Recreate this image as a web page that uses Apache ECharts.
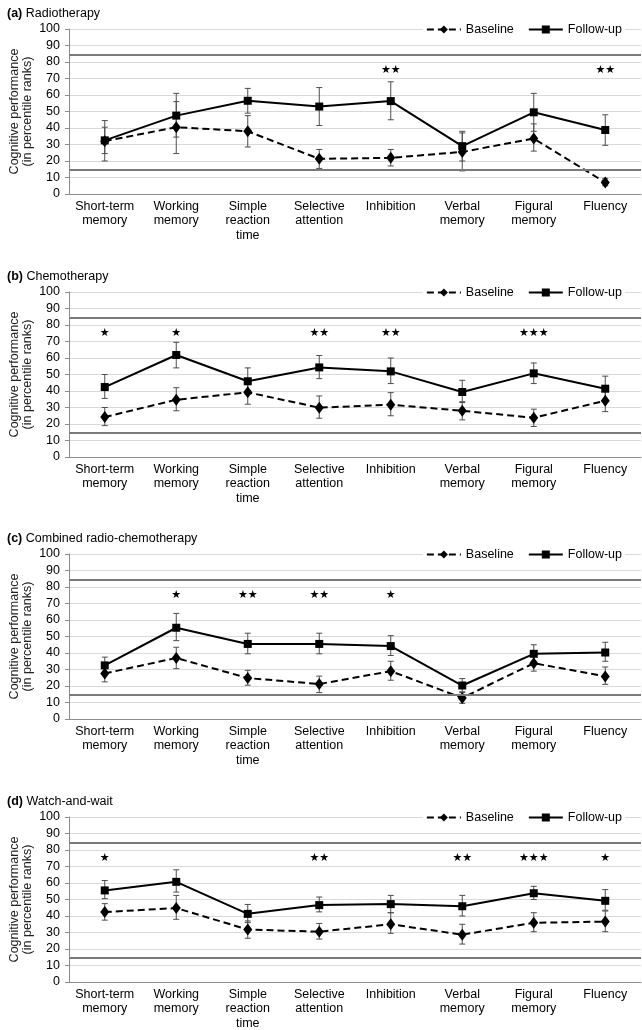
<!DOCTYPE html>
<html>
<head>
<meta charset="utf-8">
<script src="https://cdn.jsdelivr.net/npm/echarts@6.0.0/dist/echarts.min.js"></script>
<style>
  html, body { margin: 0; padding: 0; background: #fff; }
  #chart { width: 642px; height: 1030px; }
</style>
</head>
<body>
<div id="chart"></div>
<script>
// ── data ──
const categories = ['Short-term\nmemory', 'Working\nmemory', 'Simple\nreaction\ntime', 'Selective\nattention',
    'Inhibition', 'Verbal\nmemory', 'Figural\nmemory', 'Fluency'];
const panelLetters = ['(a)', '(b)', '(c)', '(d)'];
const panelNames = ['Radiotherapy', 'Chemotherapy', 'Combined radio-chemotherapy', 'Watch-and-wait'];
const normUpper = 84.5;
const normLower = 15;

// (a) radiotherapy
const radioBaseline = [32, 40.5, 38, 21.3, 21.9, 25.5, 33.6, 7];
const radioBaselineLow = [24.5, 24.5, 28.5, 15.5, 17, 14, 26, 5];
const radioBaselineHigh = [40.5, 56, 47.5, 27, 27, 37, 42.5, 9.5];
const radioFollowUp = [32.5, 47.5, 56.5, 53, 56.3, 29, 49.5, 38.8];
const radioFollowUpLow = [20, 34.5, 49, 41.5, 45, 20, 38, 29.5];
const radioFollowUpHigh = [44.5, 61, 64, 64.5, 68, 38, 61, 48];
const radioStars = ['', '', '', '', '★★', '', '', '★★'];

// (b) chemotherapy
const chemoBaseline = [24.2, 34.7, 39.2, 29.9, 31.7, 28, 23.8, 34.1];
const chemoBaselineLow = [19, 28, 32, 23.5, 25, 22.5, 18.5, 27.5];
const chemoBaselineHigh = [30, 42, 46, 37, 39, 33.5, 29, 41];
const chemoFollowUp = [42.4, 61.8, 45.9, 54.3, 51.9, 39.4, 50.7, 41.4];
const chemoFollowUpLow = [35.5, 54, 38, 47.5, 44.5, 33, 44.5, 34];
const chemoFollowUpHigh = [50, 69.5, 54, 61.5, 60, 46.5, 57, 49];
const chemoStars = ['★', '★', '', '★★', '★★', '', '★★★', ''];

// (c) combined radio-chemotherapy
const comboBaseline = [27.6, 37, 24.8, 21.2, 29, 12.8, 33.8, 25.8];
const comboBaselineLow = [22.5, 30.5, 20.5, 16, 23.5, 9.5, 29, 21];
const comboBaselineHigh = [32.5, 43.5, 29.5, 26, 35, 16, 38.5, 31.5];
const comboFollowUp = [32.5, 55.3, 45.5, 45.5, 44.2, 20.3, 39.5, 40.3];
const comboFollowUpLow = [27.5, 47.5, 39.5, 39.5, 38.5, 16.5, 34, 35];
const comboFollowUpHigh = [37.5, 64, 52, 52, 50.5, 24.5, 45, 46.5];
const comboStars = ['', '★', '★★', '★★', '★', '', '', ''];

// (d) watch-and-wait
const waitBaseline = [42.4, 44.8, 31.8, 30.5, 35, 28.7, 35.9, 36.6];
const waitBaselineLow = [37.5, 38, 26.5, 26, 29.5, 23, 30.5, 30.5];
const waitBaselineHigh = [47.5, 52.5, 37, 35.5, 42, 35, 42, 43];
const waitFollowUp = [55.5, 60.7, 41.3, 46.6, 47.2, 45.9, 53.8, 49.2];
const waitFollowUpLow = [50.5, 54.5, 36, 42.5, 42, 40, 50, 43.5];
const waitFollowUpHigh = [61.5, 68, 47, 51.5, 52.5, 52.5, 58, 56];
const waitStars = ['★', '', '', '★★', '', '★★', '★★★', '★'];

const panels = [
    { bl: radioBaseline, blLo: radioBaselineLow, blHi: radioBaselineHigh,
      fu: radioFollowUp, fuLo: radioFollowUpLow, fuHi: radioFollowUpHigh, stars: radioStars },
    { bl: chemoBaseline, blLo: chemoBaselineLow, blHi: chemoBaselineHigh,
      fu: chemoFollowUp, fuLo: chemoFollowUpLow, fuHi: chemoFollowUpHigh, stars: chemoStars },
    { bl: comboBaseline, blLo: comboBaselineLow, blHi: comboBaselineHigh,
      fu: comboFollowUp, fuLo: comboFollowUpLow, fuHi: comboFollowUpHigh, stars: comboStars },
    { bl: waitBaseline, blLo: waitBaselineLow, blHi: waitBaselineHigh,
      fu: waitFollowUp, fuLo: waitFollowUpLow, fuHi: waitFollowUpHigh, stars: waitStars },
];

// ── layout / style ──
const gridTops = [29, 292, 554, 817];
const gridHeight = 165;
const font = '"Liberation Sans", Arial, sans-serif';

function errorBar(params, api) {
    var x = api.value(0);
    var lo = api.coord([x, api.value(1)]);
    var hi = api.coord([x, api.value(2)]);
    var w = 3;
    var style = { stroke: '#4d4d4d', lineWidth: 1 };
    return {
        type: 'group',
        children: [
            { type: 'line', shape: { x1: lo[0], y1: lo[1], x2: hi[0], y2: hi[1] }, style: style },
            { type: 'line', shape: { x1: lo[0] - w, y1: lo[1], x2: lo[0] + w, y2: lo[1] }, style: style },
            { type: 'line', shape: { x1: hi[0] - w, y1: hi[1], x2: hi[0] + w, y2: hi[1] }, style: style },
        ],
    };
}

function starItem(stars) {
    return function (params, api) {
        var p = api.coord([api.value(0), api.value(1)]);
        return {
            type: 'text',
            x: p[0], y: p[1],
            style: {
                text: stars[params.dataIndex],
                fontSize: 11,
                fontFamily: '"DejaVu Sans", sans-serif',
                fill: '#000',
                align: 'center',
                verticalAlign: 'middle',
            },
        };
    };
}

var title = [], grid = [], xAxis = [], yAxis = [], legend = [], series = [];

panels.forEach(function (pn, k) {
    var top = gridTops[k];
    title.push({
        text: '{b|' + panelLetters[k] + '} ' + panelNames[k],
        left: 2, top: top - 27,
        textStyle: {
            fontSize: 12.5, fontWeight: 'normal', color: '#000', fontFamily: font,
            rich: { b: { fontSize: 12.5, fontWeight: 'bold', color: '#000', fontFamily: font } },
        },
    });
    grid.push({ left: 69, right: 1, top: top, height: gridHeight, outerBoundsMode: 'none', containLabel: false });
    legend.push({
        data: ['Baseline', 'Follow-up'],
        right: 17, top: top - 7,
        itemWidth: 34, itemHeight: 10, itemGap: 14,
        backgroundColor: '#fff',
        padding: [1, 3],
        textStyle: { fontSize: 12.5, color: '#000', fontFamily: font },
    });
    xAxis.push({
        type: 'category', gridIndex: k, data: categories,
        axisLine: { lineStyle: { color: '#8c8c8c' } },
        axisTick: { length: 5, lineStyle: { color: '#8c8c8c' } },
        axisLabel: { interval: 0, fontSize: 12.5, lineHeight: 14.5, color: '#000', fontFamily: font, margin: 5 },
    });
    yAxis.push({
        type: 'value', gridIndex: k, min: 0, max: 100, interval: 10,
        name: 'Cognitive performance\n(in percentile ranks)',
        nameLocation: 'middle', nameGap: 35, nameMoveOverlap: false,
        nameTextStyle: { fontSize: 12.5, lineHeight: 13, color: '#222', fontFamily: font },
        axisLine: { show: true, lineStyle: { color: '#8c8c8c' } },
        axisTick: { show: true, length: 4, lineStyle: { color: '#8c8c8c' } },
        axisLabel: { fontSize: 12.5, color: '#000', fontFamily: font, margin: 9 },
        splitLine: { lineStyle: { color: '#d9d9d9' } },
    });

    var idx = function (lo, hi) { return categories.map(function (c, i) { return [i, lo[i], hi[i]]; }); };

    series.push({
        type: 'custom', xAxisIndex: k, yAxisIndex: k, z: 2,
        renderItem: errorBar, encode: { x: 0, y: [1, 2] },
        data: idx(pn.blLo, pn.blHi),
    });
    series.push({
        type: 'custom', xAxisIndex: k, yAxisIndex: k, z: 2,
        renderItem: errorBar, encode: { x: 0, y: [1, 2] },
        data: idx(pn.fuLo, pn.fuHi),
    });
    series.push({
        name: 'Baseline', type: 'line', xAxisIndex: k, yAxisIndex: k, z: 3,
        data: pn.bl,
        symbol: 'diamond', symbolSize: [9, 12],
        itemStyle: { color: '#000' },
        lineStyle: { color: '#000', width: 2, type: [7, 4] },
    });
    series.push({
        name: 'Follow-up', type: 'line', xAxisIndex: k, yAxisIndex: k, z: 4,
        data: pn.fu,
        symbol: 'rect', symbolSize: 8,
        itemStyle: { color: '#000' },
        lineStyle: { color: '#000', width: 2 },
        markLine: {
            silent: true, symbol: 'none', label: { show: false },
            lineStyle: { color: '#7a7a7a', width: 2, type: 'solid' },
            data: [{ yAxis: normUpper }, { yAxis: normLower }],
        },
    });
    series.push({
        type: 'custom', xAxisIndex: k, yAxisIndex: k, z: 5,
        renderItem: starItem(pn.stars), encode: { x: 0, y: 1 },
        data: categories.map(function (c, i) { return [i, 75]; }),
    });
});

var chart = echarts.init(document.getElementById('chart'));
chart.setOption({
    animation: false,
    backgroundColor: '#fff',
    title: title, grid: grid, xAxis: xAxis, yAxis: yAxis, legend: legend, series: series,
});
window.addEventListener('resize', function () { chart.resize(); });
</script>
</body>
</html>
